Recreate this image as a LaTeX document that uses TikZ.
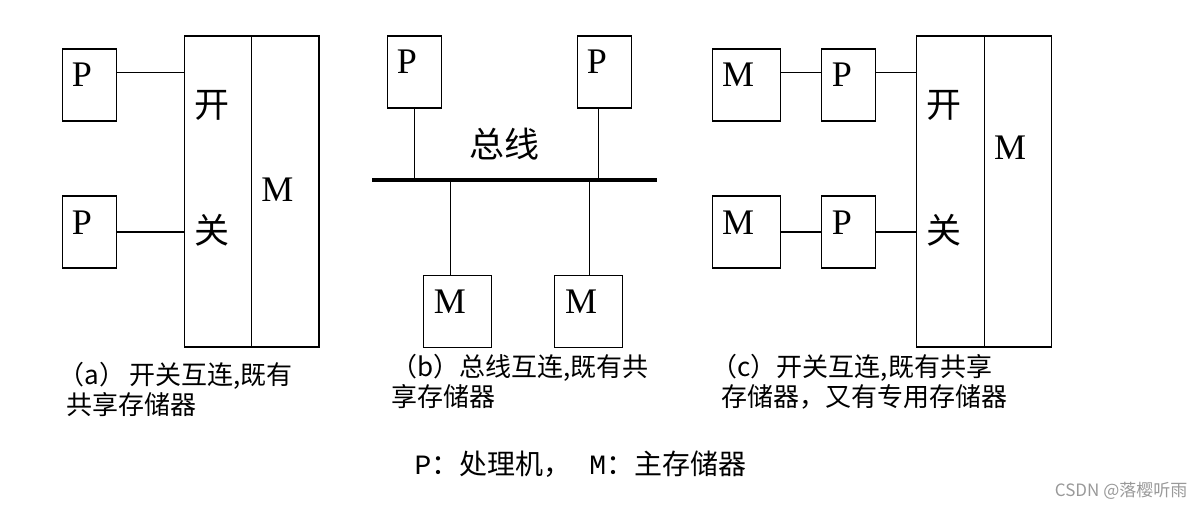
\documentclass[tikz,border=0pt]{standalone}
\usepackage{fontspec}
\setmainfont{Liberation Serif}
\setmonofont{Liberation Mono}
\newfontfamily\cjk{Noto Sans CJK SC}
\usetikzlibrary{calc}

\begin{document}
\begin{tikzpicture}[x=1pt,y=-1pt,line width=1.3pt,
    pbox/.style={draw,inner sep=0pt,minimum width=54.5pt,minimum height=72pt},
    mbox/.style={draw,inner sep=0pt,minimum width=68pt,minimum height=72pt},
    tall/.style={draw,inner sep=0pt,minimum width=67.5pt,minimum height=311pt},
    letter/.style={inner sep=0pt,font=\fontsize{36}{36}\selectfont},
    hanzi/.style={inner sep=0pt,font=\cjk\fontsize{35}{35}\selectfont},
    captext/.style={inner sep=0pt,anchor=north west,align=left,font=\cjk\fontsize{26}{30}\selectfont}]
  \useasboundingbox (0,0) rectangle (1203,510);
  % (a) switch, shared memory
  \draw
    (89.5,85) node[pbox] (pa1){}
    (89.5,232) node[pbox] (pa2){}
    (217.9,191.5) node[tall] (sa){}
    (285.3,191.5) node[tall] (ma){};
  \node[letter] (tpa1) at (82,75) {P};
  \node[letter] (tpa2) at (82,222.5) {P};
  \node[hanzi] (tsa1) at (212,105) {开};
  \node[hanzi] (tsa2) at (212,230) {关};
  \node[letter] (tma) at (277.5,189.5) {M};
  \coordinate (a1) at ($(pa1.north east)!1/3!(pa1.south east)$);
  \begin{scope}[-]
    \draw (a1) to (a1 -| sa.west);
    \draw (pa2.east) to (pa2.east -| sa.west);
  \end{scope}
  % (b) bus, shared memory
  \draw
    (414.5,72) node[pbox] (pb1){}
    (604.5,72) node[pbox] (pb2){}
    (457.3,311.5) node[mbox] (mb1){}
    (588.3,311.5) node[mbox] (mb2){};
  \node[letter] (tpb1) at (407,62) {P};
  \node[letter] (tpb2) at (597,62) {P};
  \node[letter] (tmb1) at (450,301.5) {M};
  \node[letter] (tmb2) at (581,301.5) {M};
  \node[hanzi] (tbus) at (504,144) {总线};
  \coordinate (busl) at (372,180);
  \coordinate (busr) at (657,180);
  \coordinate (b2) at ([xshift=-6pt]pb2.south);
  \coordinate (b3) at ([xshift=-6.6pt]mb1.north);
  \coordinate (b4) at ([xshift=1pt]mb2.north);
  \begin{scope}[-]
    \draw[line width=3.6pt] (busl) to (busr);
    \draw (pb1.south) to (pb1.south |- busl);
    \draw (b2) to (b2 |- busl);
    \draw (b3) to (b3 |- busl);
    \draw (b4) to (b4 |- busl);
  \end{scope}
  % (c) switch, shared and private memory
  \draw
    (746.5,85) node[mbox] (mc1){}
    (848.5,85) node[pbox] (pc1){}
    (746.5,232) node[mbox] (mc2){}
    (848.5,232) node[pbox] (pc2){}
    (950.5,191.5) node[tall] (sc){}
    (1018,191.5) node[tall] (mc){};
  \node[letter] (tmc1) at (738,75) {M};
  \node[letter] (tpc1) at (842,75) {P};
  \node[letter] (tmc2) at (738,222.5) {M};
  \node[letter] (tpc2) at (842,222.5) {P};
  \node[hanzi] (tsc1) at (944,105) {开};
  \node[hanzi] (tsc2) at (944,230) {关};
  \node[letter] (tmc) at (1010,147.5) {M};
  \coordinate (c1) at ($(mc1.north east)!1/3!(mc1.south east)$);
  \coordinate (c2) at ($(pc1.north east)!1/3!(pc1.south east)$);
  \begin{scope}[-]
    \draw (c1) to (c1 -| pc1.west);
    \draw (c2) to (c2 -| sc.west);
    \draw (mc2.east) to (pc2.west);
    \draw (pc2.east) to (pc2.east -| sc.west);
  \end{scope}
  % captions
  \node[captext] (capa) at (66,362) {\hspace*{-8pt}（a）\hspace{4pt}开关互连,既有\\共享存储器};
  \node[captext] (capb) at (391,354) {（b）总线互连,既有共\\享存储器};
  \node[captext] (capc) at (721,354) {\hspace*{-10pt}（c）开关互连,既有共享\\存储器，又有专用存储器};
  \node[inner sep=0pt,anchor=west,font=\cjk\fontsize{28}{28}\selectfont] (legend) at (414,464)
    {{\ttfamily P}：处理机，\hspace{18pt}{\ttfamily M}：主存储器};
  \node[inner sep=0pt,anchor=east,text=black!40,font=\cjk\fontsize{17}{17}\selectfont] (mark) at (1188,491)
    {CSDN @落樱听雨};
\end{tikzpicture}
\end{document}
